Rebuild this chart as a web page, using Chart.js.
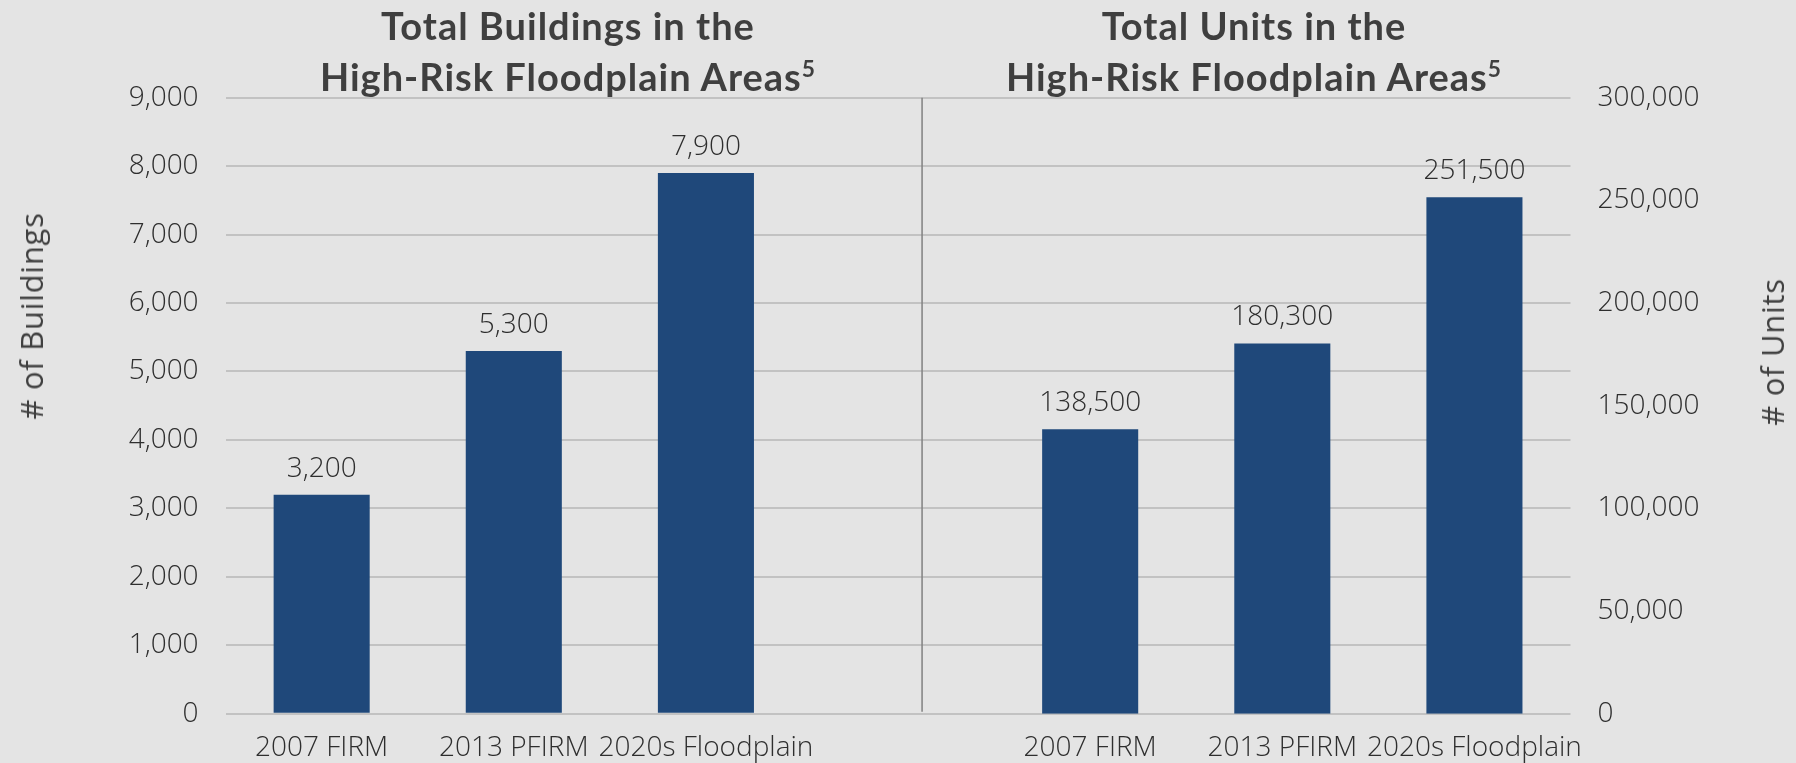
<!DOCTYPE html>
<html>
<head>
<meta charset="utf-8">
<script src="https://cdn.jsdelivr.net/npm/chart.js@4"></script>
<style>
  body { margin: 0; background: #e4e4e4; }
  #wrap { position: relative; width: 1796px; height: 763px; }
  canvas { position: absolute; left: 0; top: 0; }
  .ttl { position: absolute; top: 0; width: 700px; text-align: center;
         font: bold 38px Lato, sans-serif; letter-spacing: 1px; line-height: 51px; color: #3f3f3f; }
  .ttl sup { font-size: 60%; line-height: 0; }
  .ytl { position: absolute; font: 31px "Open Sans", sans-serif; letter-spacing: 0.7px;
         color: #404040; white-space: nowrap; transform: translate(-50%, -50%) rotate(-90deg); }
</style>
</head>
<body>
<div id="wrap">
  <canvas id="myChart" width="1796" height="763"></canvas>
  <div class="ttl" style="left:218px">Total Buildings in the<br>High-Risk Floodplain Areas<sup>5</sup></div>
  <div class="ttl" style="left:904px">Total Units in the<br>High-Risk Floodplain Areas<sup>5</sup></div>
  <div class="ytl" style="left:31px; top:316px"># of Buildings</div>
  <div class="ytl" style="left:1772px; top:352px"># of Units</div>
</div>
<script>
const categories = ['2007 FIRM', '2013 PFIRM', '2020s Floodplain'];
const buildings = [3200, 5300, 7900];
const units = [138500, 180300, 251500];
const buildingTicks = { min: 0, max: 9000, step: 1000 };
const unitTicks = { min: 0, max: 300000, step: 50000 };

const fmt = v => v.toLocaleString('en-US');
const blank = categories.map(() => null);

// buildings on the left, one empty slot, units on the right
const labels = [...categories, '', ...categories];
const buildingData = [...buildings, null, ...blank];
const unitData = [...blank, null, ...units];

const tickFont = { family: 'Open Sans', size: 28, weight: 300 };
const textColor = '#2e2e2e';

const valueLabels = {
  id: 'valueLabels',
  afterDatasetsDraw(chart) {
    const ctx = chart.ctx;
    ctx.save();
    ctx.font = '300 28px "Open Sans"';
    ctx.fillStyle = textColor;
    ctx.textAlign = 'center';
    ctx.textBaseline = 'alphabetic';
    chart.data.datasets.forEach((ds, i) => {
      chart.getDatasetMeta(i).data.forEach((bar, j) => {
        if (ds.data[j] == null) return;
        ctx.fillText(fmt(ds.data[j]), bar.x, bar.y - 18);
      });
    });
    ctx.restore();
  }
};

const divider = {
  id: 'divider',
  beforeDatasetsDraw(chart) {
    const x = chart.scales.x;
    const a = chart.chartArea;
    const px = x.getPixelForValue(3) + (x.getPixelForValue(4) - x.getPixelForValue(3)) * 0.125;
    const ctx = chart.ctx;
    ctx.save();
    ctx.strokeStyle = '#808080';
    ctx.lineWidth = 1.5;
    ctx.beginPath();
    ctx.moveTo(px, a.top);
    ctx.lineTo(px, a.bottom - 2);
    ctx.stroke();
    ctx.restore();
  }
};

let ctx = document.getElementById('myChart').getContext('2d');
let myChart = new Chart(ctx, {
  type: 'bar',
  data: {
    labels: labels,
    datasets: [{
      label: '# of Buildings',
      data: buildingData,
      yAxisID: 'y',
      backgroundColor: '#1f487a',
      grouped: false,
      barPercentage: 0.5,
      categoryPercentage: 1
    }, {
      label: '# of Units',
      data: unitData,
      yAxisID: 'y1',
      backgroundColor: '#1f487a',
      grouped: false,
      barPercentage: 0.5,
      categoryPercentage: 1
    }]
  },
  options: {
    animation: false,
    responsive: false,
    layout: { padding: { top: 97.7, left: 0, right: 0, bottom: 0 } },
    plugins: { legend: { display: false }, tooltip: { enabled: false } },
    scales: {
      x: {
        grid: { display: false, drawTicks: false },
        border: { display: false },
        ticks: { font: tickFont, color: textColor, padding: 18, maxRotation: 0, autoSkip: false },
        afterFit: s => { s.height = 49.3; }
      },
      y: {
        position: 'left',
        min: buildingTicks.min,
        max: buildingTicks.max,
        ticks: { stepSize: buildingTicks.step, font: tickFont, color: textColor, padding: 27, callback: v => fmt(v) },
        grid: { color: '#c2c2c2', lineWidth: 2, drawTicks: false },
        border: { display: false },
        afterFit: s => { s.width = 225.6; }
      },
      y1: {
        position: 'right',
        min: unitTicks.min,
        max: unitTicks.max,
        ticks: { stepSize: unitTicks.step, font: tickFont, color: textColor, padding: 27, callback: v => fmt(v) },
        grid: { display: false, drawTicks: false },
        border: { display: false },
        afterFit: s => { s.width = 225.5; }
      }
    }
  },
  plugins: [valueLabels, divider]
});
</script>
</body>
</html>
